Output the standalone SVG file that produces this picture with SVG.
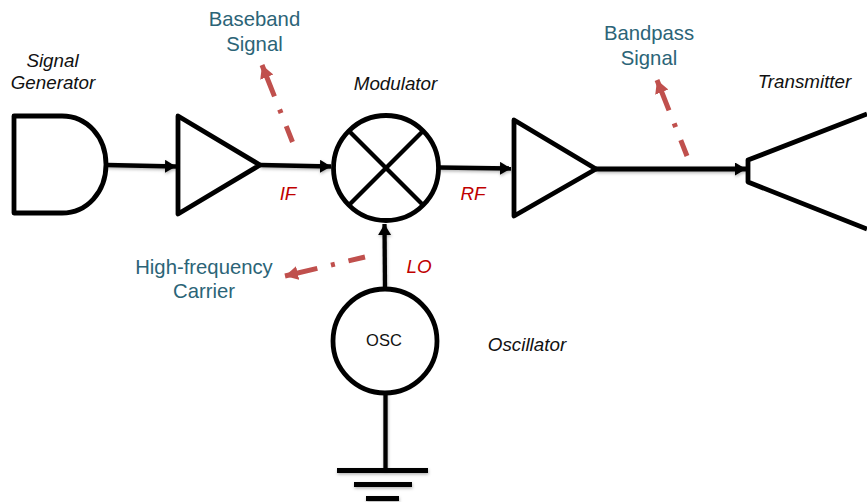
<svg xmlns="http://www.w3.org/2000/svg" width="867" height="504" viewBox="0 0 867 504">
<style>
text{font-family:"Liberation Sans",Arial,sans-serif}
.n{fill:#fff;stroke:#000;stroke-width:4.800;stroke-linejoin:round}
.x{fill:none;stroke:#000;stroke-width:4.300}
.l{fill:none;stroke:#000;stroke-width:4.300}
.d{fill:none;stroke:#c0504d;stroke-width:5;stroke-dasharray:17 14 4 14 40}
.i{font-size:18.800px;font-style:italic;fill:#111;text-anchor:middle}
.t{font-size:20.300px;fill:#2b6477;text-anchor:middle}
.r{font-size:18.800px;font-style:italic;fill:#c00000;text-anchor:middle}
</style>
<defs>
<marker id="a" markerUnits="userSpaceOnUse" markerWidth="14" markerHeight="14" refX="11" refY="6.500" orient="auto"><path d="M0 0L11 6.500L0 13Z" fill="#000"/></marker>
<marker id="b" markerUnits="userSpaceOnUse" markerWidth="14" markerHeight="16" refX="13" refY="7" orient="auto"><path d="M0 0L13 7L0 14Z" fill="#c0504d"/></marker>
<filter id="s" x="-10%" y="-10%" width="120%" height="120%"><feDropShadow dx="0.500" dy="1.500" stdDeviation="1.500" flood-color="#000" flood-opacity="0.300"/></filter>
</defs>
<g id="connectors">
<g filter="url(#s)">
<path class="l" d="M107 165L176 166.500" marker-end="url(#a)"/>
<path class="l" d="M260 165L331 166.500" marker-end="url(#a)"/>
<path class="l" d="M439 167.500L511 168.500" marker-end="url(#a)"/>
<path class="l" d="M596 169H746" style="stroke-width:5" marker-end="url(#a)"/>
<path class="l" d="M385 289L384.500 224" marker-end="url(#a)"/>
<path class="l" d="M385.500 393V470"/>
</g>
<path class="d" d="M292.500 142L262 65" marker-end="url(#b)"/>
<path class="d" d="M687 156L657 80" marker-end="url(#b)"/>
<path class="d" d="M365 257L285 276" marker-end="url(#b)"/>
</g>
<g id="signal-generator">
<path class="n" d="M14 116H62C87 116 106 137 106 164.500C106 192 87 213 62 213H14Z"/>
<text class="i" x="52.500" y="67">Signal</text>
<text class="i" x="53" y="89">Generator</text>
</g>
<g id="amp-1"><path class="n" d="M178 116L260 165L178 214Z"/></g>
<g id="modulator">
<circle class="n" cx="386" cy="168" r="52.500"/>
<path class="x" d="M349 131L423 205M423 131L349 205"/>
<text class="i" x="395.500" y="89.500">Modulator</text>
</g>
<g id="amp-2"><path class="n" d="M514 120L596 169L514 216Z"/></g>
<g id="transmitter">
<path class="n" d="M867 114L748 160V182L867 229" style="fill:none"/>
<text class="i" x="804.500" y="88">Transmitter</text>
</g>
<g id="oscillator">
<circle class="n" cx="385" cy="341" r="52"/>
<text x="384" y="346" font-size="16.500" fill="#111" text-anchor="middle">OSC</text>
<text class="i" x="527" y="350.500">Oscillator</text>
</g>
<g id="ground">
<path d="M337 470.500H428M354 484.500H412M366 498.500H399" fill="none" stroke="#000" stroke-width="4.800" filter="url(#s)"/>
</g>
<g id="labels">
<text class="t" x="254.500" y="26">Baseband</text>
<text class="t" x="254.500" y="50.500">Signal</text>
<text class="t" x="649" y="40">Bandpass</text>
<text class="t" x="649" y="64.500">Signal</text>
<text class="t" x="204" y="274">High-frequency</text>
<text class="t" x="204" y="298">Carrier</text>
<text class="r" x="288" y="200">IF</text>
<text class="r" x="473" y="200">RF</text>
<text class="r" x="419" y="273">LO</text>
</g>
</svg>
